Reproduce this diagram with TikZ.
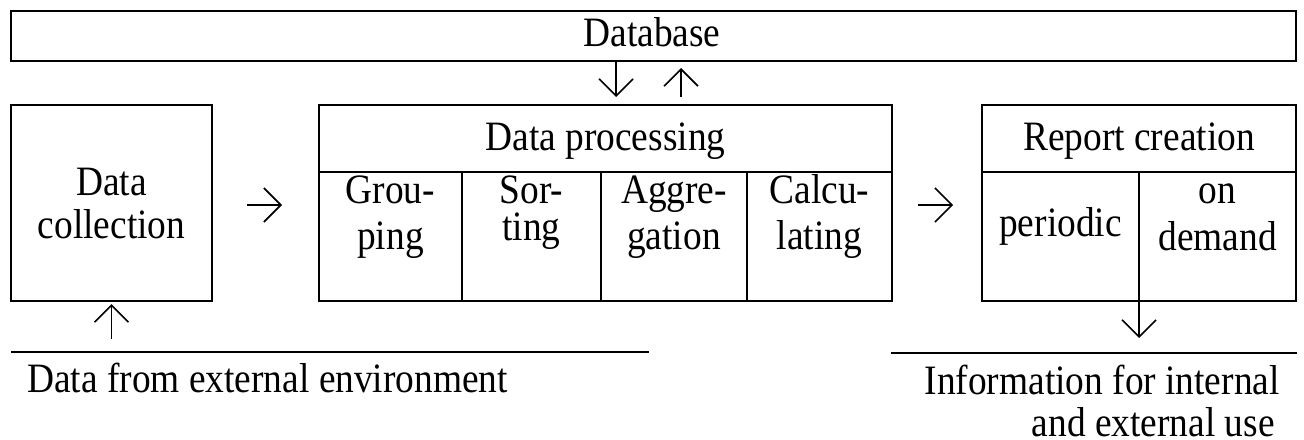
\documentclass[tikz,border=0pt]{standalone}
\usepackage{graphicx}
\usepackage{fontspec}
\setmainfont{Liberation Serif}
\usetikzlibrary{arrows.meta}
\newcommand\vstr[1]{\scalebox{1.01}[1.13]{#1}}
\begin{document}
\begin{tikzpicture}[x=0.5pt,y=-0.5pt,
  every node/.style={font=\fontsize{18.5}{21}\selectfont, inner sep=0pt},
  box/.style={draw, line width=1pt, rectangle},
  rule/.style={line width=0.9pt},
  arr/.style={line width=0.8pt, -{Straight Barb[length=8.5pt,width=17pt,line width=0.8pt]}},
  txt/.style={anchor=base}]
\useasboundingbox (0,0) rectangle (1304,439);
% boxes
\node[box, minimum width=642.5pt, minimum height=25pt] (db) at (653.5,36) {};
\node[box, minimum width=100.5pt, minimum height=98pt] (dc) at (111.5,203) {};
\node[box, minimum width=286.5pt, minimum height=98pt] (proc) at (605.5,203) {};
\node[box, minimum width=157pt, minimum height=98pt] (rep) at (1139,203) {};
% inner lines
\coordinate (hp) at (0,172);
\coordinate (d1) at (462,0);
\coordinate (d2) at (601,0);
\coordinate (d3) at (747,0);
\coordinate (d4) at (1139,0);
\draw[rule] (proc.west |- hp) -- (proc.east |- hp);
\draw[rule] (d1 |- hp) -- (d1 |- proc.south);
\draw[rule] (d2 |- hp) -- (d2 |- proc.south);
\draw[rule] (d3 |- hp) -- (d3 |- proc.south);
\draw[rule] (rep.west |- hp) -- (rep.east |- hp);
\draw[rule] (d4 |- hp) -- (d4 |- rep.south);
% texts
\node[txt] (tdb) at (652,46) {\vstr{Database}};
\node[txt] (tdc1) at (111.5,195) {\vstr{Data}};
\node[txt] (tdc2) at (111.5,238) {\vstr{collection}};
\node[txt] (tproc) at (605.5,150) {\vstr{Data processing}};
\node[txt] (trep) at (1139,150) {\vstr{Report creation}};
\node[txt] (tg1) at (390.5,203) {\vstr{Grou-}};
\node[txt] (tg2) at (390.5,249) {\vstr{ping}};
\node[txt] (ts1) at (531.5,203) {\vstr{Sor-}};
\node[txt] (ts2) at (531.5,240) {\vstr{ting}};
\node[txt] (ta1) at (674,203) {\vstr{Aggre-}};
\node[txt] (ta2) at (674,249) {\vstr{gation}};
\node[txt] (tc1) at (819.5,203) {\vstr{Calcu-}};
\node[txt] (tc2) at (819.5,249) {\vstr{lating}};
\node[txt] (tp) at (1060.5,236) {\vstr{periodic}};
\node[txt] (to1) at (1217.5,203) {\vstr{on}};
\node[txt] (to2) at (1217.5,250) {\vstr{demand}};
% bottom lines and texts
\coordinate (l1) at (11,352);
\coordinate (l2) at (649,352);
\coordinate (r1) at (891,353);
\coordinate (r2) at (1297,353);
\draw[rule] (l1) -- (l2);
\draw[rule] (r1) -- (r2);
\node[anchor=base west] (tin) at (27,392) {\vstr{Data from external environment}};
\node[anchor=base east] (tout1) at (1280,394) {\vstr{Information for internal}};
\node[anchor=base east] (tout2) at (1275,436) {\vstr{and external use}};
% arrows
\draw[arr] ([xshift=17pt,yshift=-1pt]dc.east) -- ([xshift=-18pt,yshift=-1pt]proc.west);
\draw[arr] ([xshift=12.5pt,yshift=-1pt]proc.east) -- ([xshift=-14pt,yshift=-1pt]rep.west);
\coordinate (xa) at (616,0);
\coordinate (xb) at (681,0);
\draw[arr, shorten >=3.5pt] (xa |- db.south) -- (xa |- proc.north);
\draw[arr, shorten <=3.5pt, shorten >=3pt] (xb |- proc.north) -- (xb |- db.south);
\draw[arr, shorten <=6.5pt, shorten >=1pt] (dc.south |- l1) -- (dc.south);
\draw[arr, shorten >=7.5pt] (rep.south) -- (rep.south |- r1);
\end{tikzpicture}
\end{document}
